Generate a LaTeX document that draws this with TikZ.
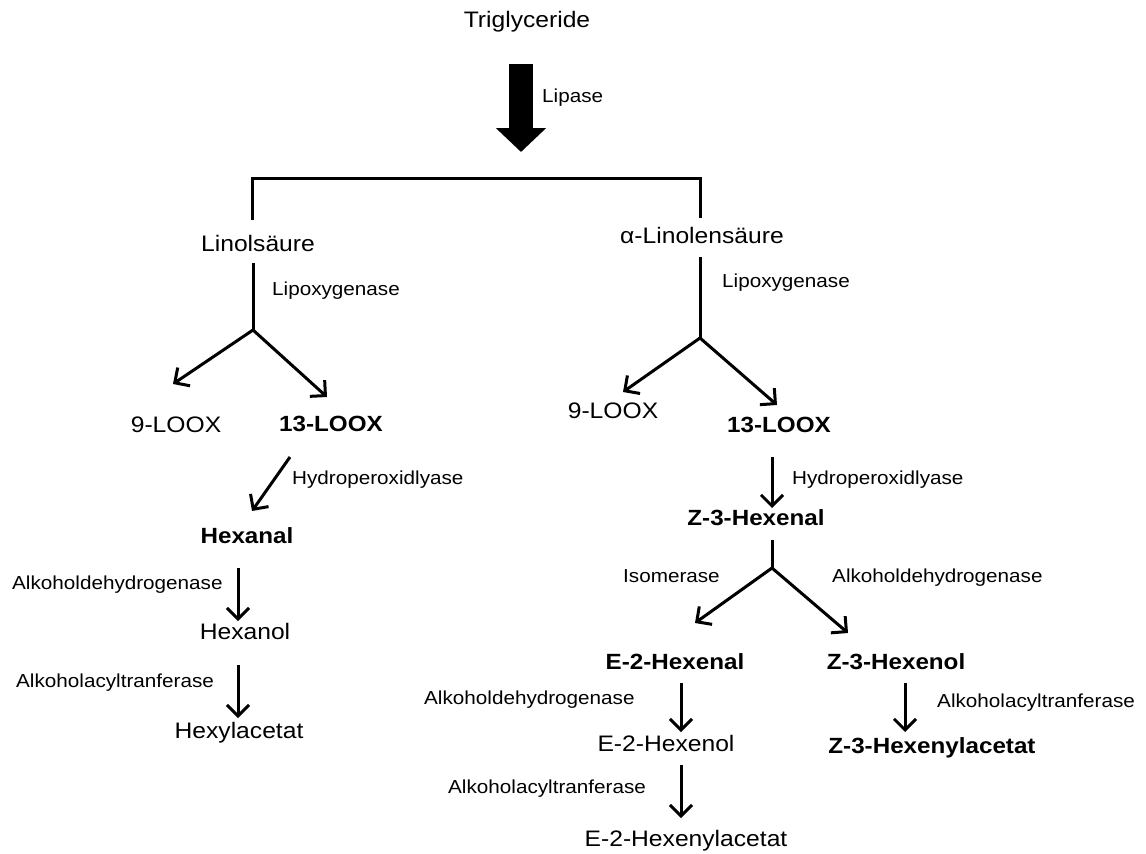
\documentclass[tikz,border=0pt]{standalone}
\usepackage{fontspec}
\setmainfont{Liberation Sans}[FakeStretch=1.10]
\usetikzlibrary{arrows.meta}
\begin{document}
\begin{tikzpicture}[x=1pt,y=-1pt,
  big/.style={font=\fontsize{22.4}{24}\selectfont, inner sep=0pt},
  bigb/.style={font=\fontsize{22}{24}\selectfont\bfseries, inner sep=0pt},
  enz/.style={font=\fontsize{18.8}{20}\selectfont, inner sep=0pt, anchor=base west},
  conn/.style={line width=3pt, line cap=butt},
  arr/.style={conn, -{Straight Barb[length=11pt,width=22pt,line width=3pt]}},
]
\useasboundingbox (0,0) rectangle (1146,854);

% texts
\node[big, anchor=base] (tri) at (527,27) {Triglyceride};
\node[enz] (lip) at (542,102) {Lipase};
\node[big, anchor=base] (lino) at (258,251) {Linolsäure};
\node[big, anchor=base] (alino) at (702,243) {α-Linolensäure};
\node[enz] (loxL) at (272,295) {Lipoxygenase};
\node[enz] (loxR) at (722,287) {Lipoxygenase};
\node[big, anchor=base] (nineL) at (176,432) {9-LOOX};
\node[bigb, anchor=base] (thirL) at (331,431) {13-LOOX};
\node[big, anchor=base] (nineR) at (613,418) {9-LOOX};
\node[bigb, anchor=base] (thirR) at (779,432) {13-LOOX};
\node[enz] (hplL) at (292,484) {Hydroperoxidlyase};
\node[bigb, anchor=base] (hexanal) at (247,543) {Hexanal};
\node[enz] (adhL) at (12,589) {Alkoholdehydrogenase};
\node[big, anchor=base] (hexanol) at (245,639) {Hexanol};
\node[enz] (aatL) at (16,687) {Alkoholacyltranferase};
\node[big, anchor=base] (hexyl) at (239,738) {Hexylacetat};
\node[enz] (hplR) at (792,484) {Hydroperoxidlyase};
\node[bigb, anchor=base] (zhexenal) at (756,525) {Z-3-Hexenal};
\node[enz] (iso) at (623,582) {Isomerase};
\node[enz] (adhR) at (832,582) {Alkoholdehydrogenase};
\node[bigb, anchor=base] (ehexenal) at (675,669) {E-2-Hexenal};
\node[bigb, anchor=base] (zhexenol) at (896,669) {Z-3-Hexenol};
\node[enz] (adhR2) at (424,704) {Alkoholdehydrogenase};
\node[big, anchor=base] (ehexenol) at (666,751) {E-2-Hexenol};
\node[enz] (aatR2) at (448,793) {Alkoholacyltranferase};
\node[big, anchor=base] (ehexac) at (686,846) {E-2-Hexenylacetat};
\node[enz] (aatR) at (937,707) {Alkoholacyltranferase};
\node[bigb, anchor=base] (zhexac) at (932,753) {Z-3-Hexenylacetat};

% coordinates
\coordinate (bigA) at (521,64);
\coordinate (bigB) at (521,152);
\coordinate (brL) at (252,220);
\coordinate (brLt) at (252,178);
\coordinate (brRt) at (700,178);
\coordinate (brR) at (700,218);
\coordinate (vL1) at (253,263);
\coordinate (forkL) at (253,330);
\coordinate (tipL9) at (173,384);
\coordinate (tipL13) at (327,397);
\coordinate (vR1) at (700,257);
\coordinate (forkR) at (700,338);
\coordinate (tipR9) at (623,392);
\coordinate (tipR13) at (777,405);
\coordinate (hA) at (290,457);
\coordinate (hB) at (252,511);
\coordinate (a1) at (238,568);
\coordinate (b1) at (238,621);
\coordinate (a2) at (238,665);
\coordinate (b2) at (238,718);
\coordinate (hrA) at (772,457);
\coordinate (hrB) at (772,508);
\coordinate (zA) at (772,540);
\coordinate (forkZ) at (772,568);
\coordinate (tipE) at (695,623);
\coordinate (tipZ) at (848,633);
\coordinate (e1) at (681,683);
\coordinate (f1) at (681,732);
\coordinate (e2) at (681,765);
\coordinate (f2) at (681,818);
\coordinate (g1) at (905,683);
\coordinate (h1) at (905,732);

% connectors
\draw[line width=24pt, -{Triangle[length=24pt,width=49pt]}] (bigA) -- (bigB);
\draw[conn, line join=miter] (brL) -- (brLt) -- (brRt) -- (brR);
\draw[conn] (vL1) -- (forkL);
\draw[arr] (forkL) -- (tipL9);
\draw[arr] (forkL) -- (tipL13);
\draw[conn] (vR1) -- (forkR);
\draw[arr] (forkR) -- (tipR9);
\draw[arr] (forkR) -- (tipR13);
\draw[arr] (hA) -- (hB);
\draw[arr] (a1) -- (b1);
\draw[arr] (a2) -- (b2);
\draw[arr] (hrA) -- (hrB);
\draw[conn] (zA) -- (forkZ);
\draw[arr] (forkZ) -- (tipE);
\draw[arr] (forkZ) -- (tipZ);
\draw[arr] (e1) -- (f1);
\draw[arr] (e2) -- (f2);
\draw[arr] (g1) -- (h1);
\end{tikzpicture}
\end{document}
